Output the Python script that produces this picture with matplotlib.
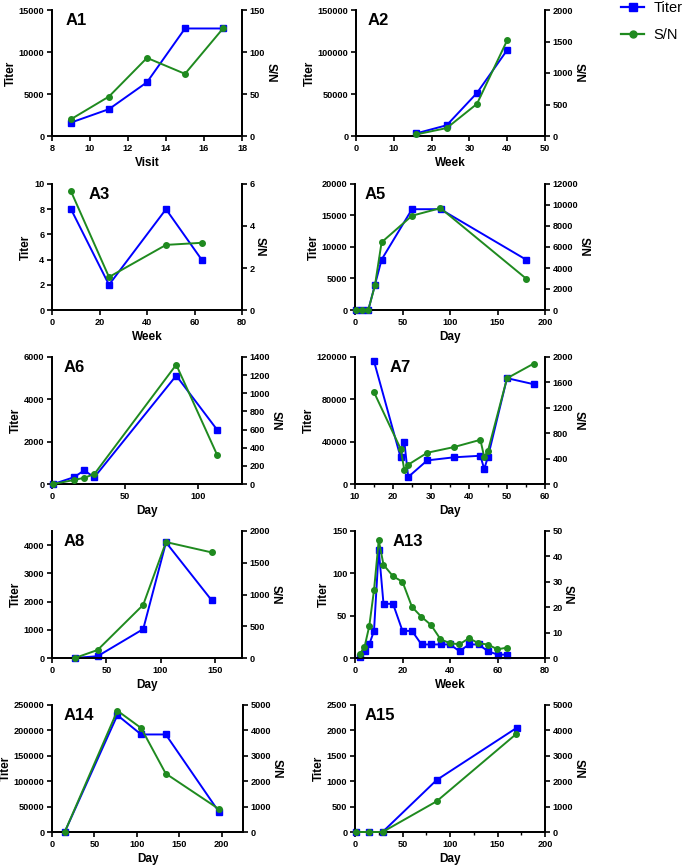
import matplotlib
matplotlib.use("Agg")
import matplotlib.pyplot as plt
from matplotlib.ticker import MultipleLocator
from matplotlib.lines import Line2D

plt.rcParams["font.family"] = ["Liberation Sans", "DejaVu Sans"]
plt.rcParams["font.weight"] = "bold"
plt.rcParams["axes.labelweight"] = "bold"

BLUE = "#0000ff"
GREEN = "#1f8a1f"

# ---- data ----
a1_x = [9, 11, 13, 15, 17]
a1_titer = [1600, 3200, 6400, 12800, 12800]
a1_sn = [20, 47, 93, 74, 128]

a2_x = [16, 24, 32, 40]
a2_titer = [3200, 12800, 51200, 102400]
a2_sn = [26, 126, 510, 1520]

a3_x = [8, 24, 48, 63]
a3_titer = [8, 2, 8, 4]
a3_sn = [5.65, 1.57, 3.1, 3.2]

a5_x = [1, 7, 14, 21, 28, 60, 90, 180]
a5_titer = [0, 0, 0, 4000, 8000, 16000, 16000, 8000]
a5_sn = [0, 0, 0, 2350, 6450, 8980, 9700, 3000]

a6_x = [1, 15, 22, 29, 85, 113]
a6_titer = [0, 320, 640, 320, 5120, 2560]
a6_sn = [0, 44, 68, 110, 1315, 320]

a7_x = [15, 22, 23, 24, 29, 36, 43, 44, 45, 50, 57]
a7_titer = [116000, 25200, 39300, 6600, 22300, 25200, 26700, 14100, 25800, 100000, 94300]
a7_sn = [1445, 555, 215, 304, 492, 581, 696, 424, 524, 1665, 1895]

a8_x = [21, 42, 84, 105, 147]
a8_titer = [0, 64, 1024, 4096, 2048]
a8_sn = [0, 126, 837, 1826, 1663]

a13_x = [2, 4, 6, 8, 10, 12, 16, 20, 24, 28, 32, 36, 40, 44, 48, 52, 56, 60, 64]
a13_titer = [1, 8, 16, 32, 128, 64, 64, 32, 32, 16, 16, 16, 16, 8, 16, 16, 8, 4, 4]
a13_sn = [1.6, 4.3, 12.5, 26.7, 46.4, 36.7, 32.2, 30, 20.1, 16.2, 13, 7.4, 5.8, 5.4, 7.8, 5.8, 5.3, 3.4, 4.1]

a14_x = [15, 77, 105, 134, 197]
a14_titer = [0, 230000, 192000, 192000, 38800]
a14_sn = [0, 4776, 4092, 2300, 895]

a15_x = [1, 15, 29, 86, 170]
a15_titer = [0, 0, 0, 1024, 2048]
a15_sn = [0, 0, 0, 1210, 3868]

W, H = 685, 866
fig = plt.figure(figsize=(W / 100, H / 100), dpi=100)

# name, x, titer, sn, xlabel, xlim, xstep, xminor, ylim, ystep, rlim, rstep, box(l,t,r,b), title x
panels = [
    ("A1", a1_x, a1_titer, a1_sn, "Visit", (8, 18), 2, None, (0, 15000), 5000, (0, 150), 50, (52, 10, 242, 136), 0.07),
    ("A2", a2_x, a2_titer, a2_sn, "Week", (0, 50), 10, None, (0, 150000), 50000, (0, 2000), 500, (356, 10, 545, 136), 0.06),
    ("A3", a3_x, a3_titer, a3_sn, "Week", (0, 80), 20, None, (0, 10), 2, (0, 6), 2, (52, 184, 242, 310), 0.19),
    ("A5", a5_x, a5_titer, a5_sn, "Day", (0, 200), 50, None, (0, 20000), 5000, (0, 12000), 2000, (355, 184, 545, 310), 0.05),
    ("A6", a6_x, a6_titer, a6_sn, "Day", (0, 130), 50, None, (0, 6000), 2000, (0, 1400), 200, (52, 357, 242, 484), 0.06),
    ("A7", a7_x, a7_titer, a7_sn, "Day", (10, 60), 10, 5, (0, 120000), 40000, (0, 2000), 400, (355, 357, 545, 484), 0.18),
    ("A8", a8_x, a8_titer, a8_sn, "Day", (0, 175), 50, None, (0, 4500), 1000, (0, 2000), 500, (52, 531, 242, 658), 0.06),
    ("A13", a13_x, a13_titer, a13_sn, "Week", (0, 80), 20, None, (0, 150), 50, (0, 50), 10, (355, 531, 545, 658), 0.2),
    ("A14", a14_x, a14_titer, a14_sn, "Day", (0, 225), 50, None, (0, 250000), 50000, (0, 5000), 1000, (52, 705, 243, 832), 0.06),
    ("A15", a15_x, a15_titer, a15_sn, "Day", (0, 200), 50, 25, (0, 2500), 500, (0, 5000), 1000, (355, 705, 545, 832), 0.05),
]

tick_kw = dict(direction="out", length=3.5, width=1.2, labelsize=6.6, pad=2)

for (name, x, titer, sn, xlabel, xlim, xstep, xminor, ylim, ystep,
     rlim, rstep, box, tx) in panels:
    l, t, r, b = box
    ax = fig.add_axes([l / W, 1 - b / H, (r - l) / W, (b - t) / H])
    ax2 = ax.twinx()
    ax.plot(x, titer, color=BLUE, marker="s", markersize=4.5, lw=1.4, clip_on=False, zorder=3)
    ax2.plot(x, sn, color=GREEN, marker="o", markersize=4, lw=1.4, clip_on=False, zorder=3)
    ax.set_xlim(*xlim)
    ax.set_ylim(*ylim)
    ax2.set_ylim(*rlim)
    ax.xaxis.set_major_locator(MultipleLocator(xstep))
    if xminor:
        ax.xaxis.set_minor_locator(MultipleLocator(xminor))
    ax.yaxis.set_major_locator(MultipleLocator(ystep))
    ax2.yaxis.set_major_locator(MultipleLocator(rstep))
    for a in (ax, ax2):
        a.spines["top"].set_visible(False)
        for s in ("left", "right", "bottom"):
            a.spines[s].set_linewidth(1.3)
        a.tick_params(axis="both", which="major", **tick_kw)
        a.tick_params(axis="both", which="minor", direction="out", length=2.5, width=1.0)
    ax.set_ylabel("Titer", fontsize=8.5, labelpad=1.5)
    ax.set_xlabel(xlabel, fontsize=8.5, labelpad=3)
    ax2.set_ylabel("S/N", fontsize=8.5, rotation=270, labelpad=8)
    ax.text(tx, 0.92, name, transform=ax.transAxes, fontsize=12, fontweight="bold",
            va="center", ha="left")

handles = [
    Line2D([], [], color=BLUE, marker="s", markersize=5.5, lw=1.6),
    Line2D([], [], color=GREEN, marker="o", markersize=5, lw=1.6),
]
fig.legend(handles, ["Titer", "S/N"], loc="upper left", bbox_to_anchor=(608 / W, 1.014),
           frameon=False, prop={"weight": "normal", "size": 10.5}, handlelength=1.6,
           labelspacing=0.9, handletextpad=0.6)

fig.savefig("out.png", dpi=100)
